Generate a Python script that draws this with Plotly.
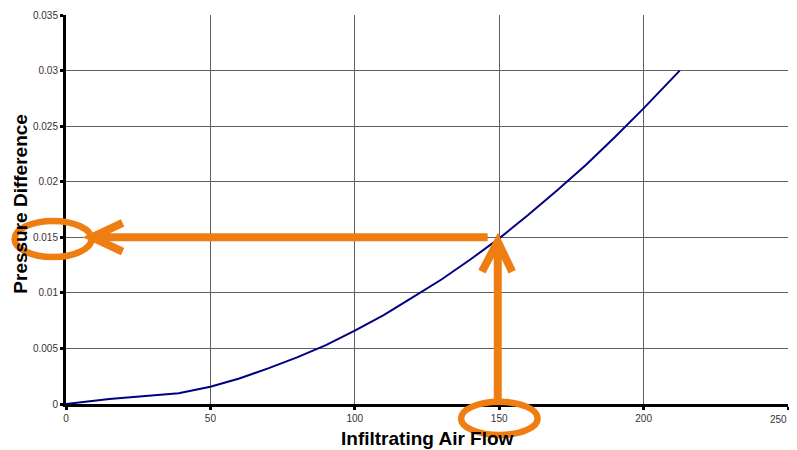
import plotly.graph_objects as go

# Data
air_flow = [0, 15, 39, 50, 60, 70, 80, 90, 100, 110, 120, 130, 140, 150,
            160, 170, 180, 190, 200, 212.5]
pressure = [0, 0.00045, 0.00096, 0.00156, 0.0023, 0.0032, 0.0042, 0.0053, 0.0066,
            0.0080, 0.0096, 0.0112, 0.0130, 0.0149, 0.0170, 0.0192, 0.0215,
            0.0240, 0.0266, 0.0300]
x_ticks = [0, 50, 100, 150, 200, 250]
x_tick_text = ["0", "50", "100", "150", "200", "250"]
y_ticks = [0, 0.005, 0.01, 0.015, 0.02, 0.025, 0.03, 0.035]
y_tick_text = ["0", "0.005", "0.01", "0.015", "0.02", "0.025", "0.03", "0.035"]

X_MAX, Y_MAX = 250, 0.035
# highlighted reading
hx, hy = 150, 0.015

ORANGE = "#EE7D12"


def px(x):
    return x / X_MAX


def py(y):
    return y / Y_MAX


fig = go.Figure()
fig.add_trace(go.Scatter(x=air_flow, y=pressure, mode="lines",
                         line=dict(color="#000080", width=2), showlegend=False,
                         hoverinfo="skip"))

shapes = []
# horizontal arrow (from curve point toward y-axis)
shapes.append(dict(type="line", xref="paper", yref="paper",
                   x0=px(hx - 4), y0=py(hy), x1=px(9), y1=py(hy),
                   line=dict(color=ORANGE, width=8)))
shapes.append(dict(type="path", xref="paper", yref="paper",
                   path=f"M {px(19.6)} {py(hy + 0.0013)} L {px(9)} {py(hy)} L {px(19.6)} {py(hy - 0.0013)}",
                   line=dict(color=ORANGE, width=8)))
# vertical arrow (from x-axis up to curve point)
shapes.append(dict(type="line", xref="paper", yref="paper",
                   x0=px(hx - 0.5), y0=py(0.0), x1=px(hx - 0.5), y1=py(hy - 0.0004),
                   line=dict(color=ORANGE, width=8)))
shapes.append(dict(type="path", xref="paper", yref="paper",
                   path=f"M {px(hx - 6)} {py(hy - 0.0031)} L {px(hx - 0.5)} {py(hy - 0.0004)} L {px(hx + 4.5)} {py(hy - 0.0031)}",
                   line=dict(color=ORANGE, width=8)))
# ellipses around tick labels
shapes.append(dict(type="circle", xref="paper", yref="paper",
                   x0=px(-17.8), x1=px(8.8), y0=py(0.01323), y1=py(0.01647),
                   line=dict(color=ORANGE, width=6.5)))
shapes.append(dict(type="circle", xref="paper", yref="paper",
                   x0=px(136.8), x1=px(163.3), y0=py(-0.00279), y1=py(0.0002),
                   line=dict(color=ORANGE, width=6.5)))

axis_common = dict(showgrid=True, gridcolor="#606060", gridwidth=1, showline=True,
                   linecolor="black", linewidth=3, ticks="outside", ticklen=3,
                   tickwidth=3, tickcolor="black", zeroline=False, automargin=False,
                   ticklabeloverflow="allow")

# last x tick label is placed as an annotation so it stays inside the visible page
axis_tick_text = x_tick_text[:-1] + [""]

# the page body adds an 8px offset on the left and top
fig.update_layout(
    width=789, height=442,
    margin=dict(l=58, r=9, t=7, b=46),
    paper_bgcolor="white", plot_bgcolor="white",
    font=dict(family="Liberation Sans, Arial", color="#333333", size=10),
    shapes=shapes,
    xaxis=dict(range=[0, X_MAX], tickvals=x_ticks, ticktext=axis_tick_text,
               tickfont=dict(size=10, color="#333333"), **axis_common),
    yaxis=dict(range=[0, Y_MAX], tickvals=y_ticks, ticktext=y_tick_text,
               tickfont=dict(size=10, color="#333333"), **axis_common),
    annotations=[
        dict(text=x_tick_text[-1], xref="x", yref="paper", x=x_ticks[-1], y=0,
             xanchor="right", yanchor="middle", xshift=1, yshift=-15,
             showarrow=False, font=dict(size=10, color="#333333")),
        dict(text="<b>Infiltrating Air Flow</b>", xref="paper", yref="paper",
             x=0.5, y=0, yshift=-34, xanchor="center", yanchor="middle",
             showarrow=False, font=dict(size=19, color="black")),
        dict(text="<b>Pressure Difference</b>", xref="paper", yref="paper",
             x=0, xshift=-45, y=0.515, xanchor="center", yanchor="middle",
             textangle=-90, showarrow=False, font=dict(size=19, color="black")),
    ],
)

fig.write_html("out.html")
